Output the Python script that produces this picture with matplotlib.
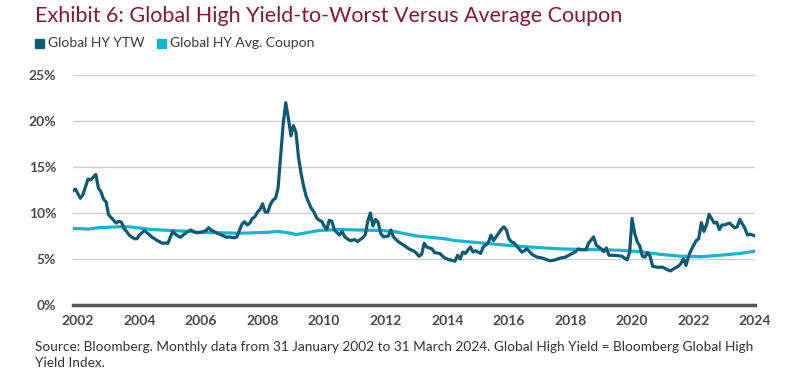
import matplotlib
matplotlib.use("Agg")
import matplotlib.pyplot as plt
import pandas as pd

# Global HY yield-to-worst (%)
ytw_dates = [
    "2002-01", "2002-02", "2002-04", "2002-05", "2002-07", "2002-08", "2002-10", "2002-11", "2002-12",
    "2003-01", "2003-02", "2003-03", "2003-04", "2003-06", "2003-07", "2003-08", "2003-09", "2003-10", "2003-11",
    "2004-01", "2004-02", "2004-03", "2004-05", "2004-06", "2004-08", "2004-10", "2004-12",
    "2005-01", "2005-02", "2005-04", "2005-05", "2005-07", "2005-08", "2005-10", "2005-11",
    "2006-01", "2006-03", "2006-05", "2006-06", "2006-07", "2006-09", "2006-11",
    "2007-01", "2007-02", "2007-04", "2007-05", "2007-07", "2007-08", "2007-09", "2007-10", "2007-11", "2007-12",
    "2008-01", "2008-02", "2008-03", "2008-04", "2008-05", "2008-06", "2008-07", "2008-08", "2008-09", "2008-10",
    "2008-11", "2008-12",
    "2009-01", "2009-02", "2009-03", "2009-04", "2009-05", "2009-06", "2009-07", "2009-08", "2009-09", "2009-10",
    "2009-11", "2009-12",
    "2010-01", "2010-02", "2010-03", "2010-04", "2010-05", "2010-06", "2010-07", "2010-09", "2010-10", "2010-11",
    "2011-01", "2011-03", "2011-04", "2011-06", "2011-07", "2011-08", "2011-09", "2011-10", "2011-11", "2011-12",
    "2012-01", "2012-02", "2012-04", "2012-05", "2012-06", "2012-08", "2012-10", "2012-12",
    "2013-02", "2013-03", "2013-04", "2013-05", "2013-06", "2013-07", "2013-09", "2013-10", "2013-12",
    "2014-02", "2014-04", "2014-06", "2014-07", "2014-08", "2014-09", "2014-10", "2014-12",
    "2015-01", "2015-02", "2015-04", "2015-05", "2015-07", "2015-08", "2015-09", "2015-11", "2015-12",
    "2016-01", "2016-02", "2016-03", "2016-04", "2016-05", "2016-07", "2016-08", "2016-09", "2016-10", "2016-12",
    "2017-02", "2017-04", "2017-06", "2017-07", "2017-09", "2017-11",
    "2018-01", "2018-03", "2018-05", "2018-06", "2018-07", "2018-09", "2018-10", "2018-12",
    "2019-01", "2019-03", "2019-04", "2019-05", "2019-06", "2019-08", "2019-10", "2019-11",
    "2020-01", "2020-02", "2020-03", "2020-04", "2020-05", "2020-06", "2020-07", "2020-08", "2020-09", "2020-10",
    "2020-11",
    "2021-01", "2021-03", "2021-05", "2021-06", "2021-07", "2021-09", "2021-10", "2021-11", "2021-12",
    "2022-01", "2022-02", "2022-04", "2022-05", "2022-06", "2022-07", "2022-08", "2022-09", "2022-10", "2022-11",
    "2022-12",
    "2023-01", "2023-02", "2023-03", "2023-05", "2023-07", "2023-08", "2023-09", "2023-11", "2023-12",
    "2024-01", "2024-03",
]
ytw_values = [
    12.4, 12.6, 11.6, 12.0, 13.7, 13.6, 14.2, 12.7, 12.3,
    11.5, 11.2, 9.8, 9.5, 8.9, 9.1, 9.0, 8.3, 8.0, 7.6,
    7.2, 7.2, 7.6, 8.1, 7.85, 7.35, 7.0, 6.7,
    6.75, 6.7, 8.0, 7.7, 7.35, 7.6, 8.0, 8.15,
    7.85, 7.9, 8.1, 8.4, 8.15, 7.85, 7.6,
    7.35, 7.4, 7.3, 7.4, 8.8, 9.05, 8.7, 8.9, 9.4, 9.6,
    10.1, 10.4, 11.0, 10.1, 10.1, 10.9, 11.4, 11.6, 12.7, 16.1,
    19.7, 22.0,
    20.3, 18.4, 19.5, 18.8, 16.1, 14.3, 12.9, 11.8, 11.1, 10.5,
    10.1, 9.5,
    9.2, 9.1, 8.6, 8.2, 9.2, 9.1, 8.15, 7.6, 8.0, 7.4,
    7.0, 7.1, 6.9, 7.3, 7.6, 9.1, 10.0, 8.6, 9.3, 9.0,
    7.8, 7.4, 7.5, 8.15, 7.4, 6.85, 6.5, 6.1,
    5.85, 5.6, 5.3, 5.5, 6.7, 6.3, 6.1, 5.7, 5.6,
    5.1, 4.9, 4.75, 5.4, 5.0, 5.75, 5.6, 6.3,
    5.75, 5.9, 5.6, 6.3, 6.75, 7.6, 7.0, 7.8, 8.2,
    8.5, 8.15, 7.2, 6.85, 6.75, 6.1, 5.75, 5.9, 6.1, 5.5,
    5.2, 5.1, 4.9, 4.8, 4.9, 5.1,
    5.2, 5.5, 5.8, 6.1, 6.0, 6.0, 6.7, 7.4,
    6.5, 6.1, 5.8, 6.2, 5.4, 5.4, 5.35, 5.3,
    4.9, 5.7, 9.4, 7.8, 6.9, 6.4, 5.3, 5.2, 5.7, 5.3,
    4.2,
    4.1, 4.1, 3.8, 3.7, 3.9, 4.2, 4.5, 5.0, 4.3,
    5.3, 6.0, 7.0, 7.2, 8.95, 8.0, 8.7, 9.85, 9.4, 8.9,
    9.0,
    8.2, 8.7, 8.7, 8.9, 8.4, 8.5, 9.3, 8.3, 7.6,
    7.7, 7.5,
]

# Global HY average coupon (%)
cpn_dates = [
    "2002-01", "2002-07", "2002-11", "2003-07", "2003-11", "2004-08", "2005-10", "2006-02", "2007-06",
    "2008-05", "2008-09", "2009-02", "2009-04", "2009-08", "2010-01", "2010-09", "2011-05", "2012-01",
    "2012-06", "2013-03", "2014-02", "2014-06", "2015-06", "2016-04", "2017-02", "2017-11", "2018-05",
    "2019-03", "2019-10", "2020-06", "2021-02", "2021-10", "2022-06", "2023-01", "2023-09", "2024-03",
]
cpn_values = [
    8.33, 8.25, 8.4, 8.5, 8.5, 8.2, 8.0, 7.9, 7.8,
    7.9, 8.0, 7.8, 7.65, 7.85, 8.1, 8.2, 8.15, 8.1,
    8.0, 7.5, 7.2, 7.0, 6.7, 6.45, 6.25, 6.1, 6.05,
    6.0, 5.95, 5.8, 5.5, 5.3, 5.25, 5.4, 5.6, 5.85,
]

tick_years = list(range(2002, 2025, 2))

ytw = pd.Series(ytw_values, index=pd.to_datetime(ytw_dates))
cpn = pd.Series(cpn_values, index=pd.to_datetime(cpn_dates))

DARK = "#0b5b78"
LIGHT = "#13b5d1"
BODY = ["Lato", "DejaVu Sans"]

fig = plt.figure(figsize=(8, 3.87), dpi=100)
ax = fig.add_axes([0.091, 0.212, 0.853, 0.594])

ax.plot(cpn.index, cpn.values, color=LIGHT, lw=2.3, solid_capstyle="round")
ax.plot(ytw.index, ytw.values, color=DARK, lw=2.3, solid_joinstyle="round")

ax.set_ylim(0, 25)
ax.set_yticks([0, 5, 10, 15, 20, 25])
ax.set_yticklabels([f"{v}%" for v in [0, 5, 10, 15, 20, 25]])
ax.set_xlim(pd.Timestamp("2002-01-01"), pd.Timestamp("2024-03-01"))
ax.set_xticks([pd.Timestamp(f"{y}-03-01") for y in tick_years])
ax.set_xticklabels([str(y) for y in tick_years])

ax.grid(axis="y", color="#cfcfcf", lw=1.0)
ax.set_axisbelow(True)
for s in ["top", "right", "left"]:
    ax.spines[s].set_visible(False)
ax.spines["bottom"].set_color("#555555")
ax.spines["bottom"].set_linewidth(2.5)
ax.tick_params(length=0, labelsize=10, labelcolor="#4a4a4a")
ax.tick_params(axis="x", pad=7)
ax.tick_params(axis="y", pad=12)
for lab in ax.get_xticklabels() + ax.get_yticklabels():
    lab.set_family(BODY)
    lab.set_fontweight("bold")

fig.text(0.044, 0.958, "Exhibit 6: Global High Yield-to-Worst Versus Average Coupon",
         color="#8a1538", fontsize=15.5, family=["Lato", "DejaVu Sans"], va="center")

# legend drawn as squares + text
fig.patches.append(plt.Rectangle((0.044, 0.877), 0.011, 0.023, transform=fig.transFigure,
                                 color=DARK, figure=fig))
fig.text(0.06, 0.888, "Global HY YTW", fontsize=10, color="#3a3a3a", family=BODY, va="center")
fig.patches.append(plt.Rectangle((0.196, 0.877), 0.011, 0.023, transform=fig.transFigure,
                                 color=LIGHT, figure=fig))
fig.text(0.212, 0.888, "Global HY Avg. Coupon", fontsize=10, color="#3a3a3a", family=BODY, va="center")

fig.text(0.044, 0.083,
         "Source: Bloomberg. Monthly data from 31 January 2002 to 31 March 2024. Global High Yield = Bloomberg Global High\nYield Index.",
         fontsize=9.8, color="#333333", family=BODY, va="center", linespacing=1.35)

fig.savefig("out.png", dpi=100)
